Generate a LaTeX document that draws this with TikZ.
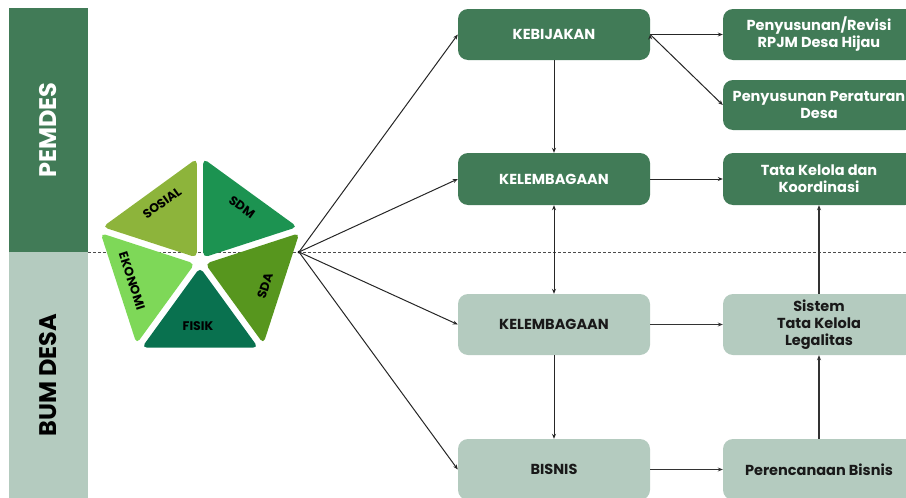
\documentclass[tikz,border=0pt]{standalone}
\usepackage{fontspec}
\setmainfont{Poppins}
\usepackage{xcolor}
\usetikzlibrary{arrows.meta,positioning}

\definecolor{pemdes}{HTML}{417B57}
\definecolor{bumdes}{HTML}{B4CBBF}
\definecolor{sosial}{HTML}{8DB43B}
\definecolor{sdm}{HTML}{1C9351}
\definecolor{ekonomi}{HTML}{7ED858}
\definecolor{fisik}{HTML}{09714F}
\definecolor{sda}{HTML}{57961E}

\begin{document}
\begin{tikzpicture}[x=1pt,y=-1pt,>={Stealth[length=5pt,width=4pt]},
 box/.style={rectangle,rounded corners=10pt,minimum width=192pt,inner sep=2pt,
   align=center,font=\fontsize{14.5}{17}\selectfont\bfseries},
 atas/.style={box,fill=pemdes,text=white},
 bawah/.style={box,fill=bumdes,text=black!90},
 keping/.style={rounded corners=5pt},
 teks/.style={font=\fontsize{12.5}{14}\selectfont\bfseries,text=black,inner sep=0pt},
 panah/.style={->,line width=1pt,black!85},
 tebal/.style={panah,line width=1.5pt,black!80}]
 \useasboundingbox (0,0) rectangle (906,498);
 \clip (0,0) rectangle (906,498);

 % side bands
 \fill[pemdes] (9,8) rectangle (88,252);
 \fill[bumdes] (9,252) rectangle (88,498);
 \node[rotate=90,text=white,font=\fontsize{24}{26}\selectfont\bfseries] (pem) at (48,130) {PEMDES};
 \node[rotate=90,text=black,font=\fontsize{24}{26}\selectfont\bfseries] (bum) at (48,375) {BUM DESA};
 \draw[densely dashed,black!70,line width=0.8pt] (88,252) -- (906,252);

 % pentagon, five pieces pushed apart from (200,262)
 \fill[keping,sosial,shift={(-3.23,-4.45)}] (200,262) -- (200,163) -- (105.85,231.4) -- cycle;
 \fill[keping,sdm,shift={(3.23,-4.45)}] (200,262) -- (200,163) -- (294.15,231.4) -- cycle;
 \fill[keping,ekonomi,shift={(-5.23,1.7)}] (200,262) -- (105.85,231.4) -- (141.8,342.1) -- cycle;
 \fill[keping,fisik,shift={(0,5.5)}] (200,262) -- (141.8,342.1) -- (258.2,342.1) -- cycle;
 \fill[keping,sda,shift={(5.23,1.7)}] (200,262) -- (258.2,342.1) -- (294.15,231.4) -- cycle;
 \node[teks,rotate=36] (sos) at (162,203) {SOSIAL};
 \node[teks,rotate=-36] (sdm) at (242,207) {SDM};
 \node[teks,rotate=-72] (eko) at (132,281) {EKONOMI};
 \node[teks,rotate=72] (sda) at (265,286) {SDA};
 \node[teks] (fis) at (198,326) {FISIK};
 \coordinate (fan) at (299,252);
 \fill[black] (fan) circle (1.5pt);

 % first column
 \node[atas,minimum height=51pt] (keb) at (554,34.5) {KEBIJAKAN};
 \node[atas,minimum height=52pt] (lem1) at (554,179) {KELEMBAGAAN};
 \node[bawah,minimum height=61pt] (lem2) at (554,324.5) {KELEMBAGAAN};
 \node[bawah,minimum height=61pt] (bis) at (554,469.5) {BISNIS};

 % second column
 \node[atas,minimum height=51pt] (rpjm) at (819,34.5) {Penyusunan/Revisi\\RPJM Desa Hijau};
 \node[atas,minimum height=50pt] (perdes) at (819,105) {Penyusunan Peraturan\\Desa};
 \node[atas,minimum height=52pt] (tata) at (819,179) {Tata Kelola dan\\Koordinasi};
 \node[bawah,minimum height=61pt] (sis) at (819,324.5) {Sistem\\Tata Kelola\\Legalitas};
 \node[bawah,minimum height=61pt] (renc) at (819,469.5) {Perencanaan Bisnis};

 \draw [panah]
 (fan)
 edge (keb.west)
 edge (lem1.west)
 edge (lem2.west)
 edge (bis.west)
 (keb)
 edge (rpjm)
 edge (lem1)
 (keb.east)
 edge (perdes.west)
 (lem1)
 edge (tata)
 (lem2)
 edge (bis);
 \draw [tebal]
 (lem2)
 edge (sis)
 (bis)
 edge (renc)
 (renc)
 edge (sis)
 (sis)
 edge (tata);
 \draw [panah,<->] (lem1) -- (lem2);
\end{tikzpicture}
\end{document}
